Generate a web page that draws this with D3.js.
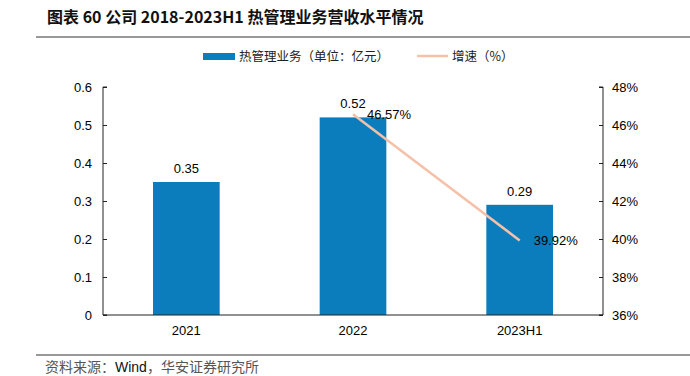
<!DOCTYPE html>
<html>
<head>
<meta charset="utf-8">
<script src="https://cdn.jsdelivr.net/npm/d3@7"></script>
<style>
  body { margin: 0; background: #fff; }
  text { font-family: "Liberation Sans", Arial, sans-serif; }
  .cn { font-family: "Noto Sans CJK SC", sans-serif; }
</style>
</head>
<body>
<svg id="chart" width="690" height="376"></svg>
<script>
// data
var categories = ["2021", "2022", "2023H1"];
var revenue = [0.35, 0.52, 0.29];
var growth = [null, 46.57, 39.92];
var leftTicks = [0, 0.1, 0.2, 0.3, 0.4, 0.5, 0.6];
var rightTicks = [36, 38, 40, 42, 44, 46, 48];

var svg = d3.select("#chart");
var plotL = 103, plotR = 603, plotT = 87, plotB = 315;

// title
svg.append("text")
    .attr("x", 47).attr("y", 23)
    .attr("font-size", 16).attr("font-weight", "bold")
    .attr("fill", "#111")
    .attr("class", "cn")
    .text("图表 60 公司 2018-2023H1 热管理业务营收水平情况");
svg.append("line")
    .attr("x1", 36).attr("x2", 690).attr("y1", 37).attr("y2", 37)
    .attr("stroke", "#333").attr("stroke-width", 1);

var x = d3.scaleBand().domain(categories).range([plotL, plotR])
    .paddingInner(0.6).paddingOuter(0.3);
var yL = d3.scaleLinear().domain([0, 0.6]).range([plotB, plotT]);
var yR = d3.scaleLinear().domain([36, 48]).range([plotB, plotT]);

// bars
svg.selectAll("rect.bar")
    .data(revenue)
    .enter().append("rect")
    .attr("class", "bar")
    .attr("x", function(d, i) { return x(categories[i]); })
    .attr("y", function(d) { return yL(d); })
    .attr("width", x.bandwidth())
    .attr("height", function(d) { return plotB - yL(d); })
    .attr("fill", "#0b7dbd");

svg.selectAll("text.barlab")
    .data(revenue)
    .enter().append("text")
    .attr("class", "barlab")
    .attr("x", function(d, i) { return x(categories[i]) + x.bandwidth() / 2; })
    .attr("y", function(d) { return yL(d) - 9; })
    .attr("text-anchor", "middle")
    .attr("font-size", 13)
    .text(function(d) { return d.toFixed(2); });

// axes
var axL = svg.append("g").attr("transform", "translate(" + plotL + ",0)")
    .call(d3.axisRight(yL).tickValues(leftTicks).tickSize(4).tickFormat(""));
axL.select(".domain").attr("d", "M4," + plotT + "H0V" + plotB + "H4");
svg.selectAll("text.ltick").data(leftTicks).enter().append("text")
    .attr("x", plotL - 11).attr("y", function(d) { return yL(d); })
    .attr("dy", "0.35em").attr("text-anchor", "end").attr("font-size", 13)
    .text(function(d) { return d3.format("")(d); });

var axR = svg.append("g").attr("transform", "translate(" + plotR + ",0)")
    .call(d3.axisLeft(yR).tickValues(rightTicks).tickSize(4).tickFormat(""));
axR.select(".domain").attr("d", "M-4," + plotT + "H0V" + plotB + "H-4");
svg.selectAll("text.rtick").data(rightTicks).enter().append("text")
    .attr("x", plotR + 9).attr("y", function(d) { return yR(d); })
    .attr("dy", "0.35em").attr("font-size", 13)
    .text(function(d) { return d + "%"; });

svg.selectAll(".tick line, .domain").attr("stroke", "#222");

svg.append("line")
    .attr("x1", plotL).attr("x2", plotR).attr("y1", plotB).attr("y2", plotB)
    .attr("stroke", "#222");

svg.selectAll("text.xlab").data(categories).enter().append("text")
    .attr("x", function(d) { return x(d) + x.bandwidth() / 2; })
    .attr("y", plotB + 20).attr("text-anchor", "middle").attr("font-size", 13)
    .text(function(d) { return d; });

// growth line
var pts = categories.map(function(c, i) { return { c: c, v: growth[i] }; })
    .filter(function(d) { return d.v != null; });
var line = d3.line()
    .x(function(d) { return x(d.c) + x.bandwidth() / 2; })
    .y(function(d) { return yR(d.v); });
svg.append("path").datum(pts)
    .attr("d", line).attr("fill", "none")
    .attr("stroke", "#f5c1a9").attr("stroke-width", 2.5);

svg.selectAll("text.glab").data(pts).enter().append("text")
    .attr("x", function(d) { return x(d.c) + x.bandwidth() / 2 + 14; })
    .attr("y", function(d) { return yR(d.v); })
    .attr("dy", "0.35em").attr("font-size", 13)
    .text(function(d) { return d.v.toFixed(2) + "%"; });

// legend
svg.append("rect").attr("x", 203).attr("y", 53).attr("width", 32).attr("height", 7)
    .attr("fill", "#0b7dbd");
svg.append("text").attr("class", "cn").attr("x", 239).attr("y", 61)
    .attr("font-size", 12.5).attr("fill", "#222").text("热管理业务（单位：亿元）");
svg.append("line").attr("x1", 417).attr("x2", 448).attr("y1", 56).attr("y2", 56)
    .attr("stroke", "#f5c1a9").attr("stroke-width", 2.5);
svg.append("text").attr("class", "cn").attr("x", 452).attr("y", 61)
    .attr("font-size", 12.5).attr("fill", "#222").text("增速（%）");

// source
svg.append("line")
    .attr("x1", 36).attr("x2", 690).attr("y1", 355).attr("y2", 355)
    .attr("stroke", "#333").attr("stroke-width", 1);
var src = svg.append("text").attr("x", 45).attr("y", 372).attr("font-size", 14);
src.append("tspan").attr("class", "cn").attr("fill", "#555").text("资料来源：");
src.append("tspan").attr("fill", "#111").text("Wind");
src.append("tspan").attr("class", "cn").attr("fill", "#555").text("，华安证券研究所");
</script>
</body>
</html>
